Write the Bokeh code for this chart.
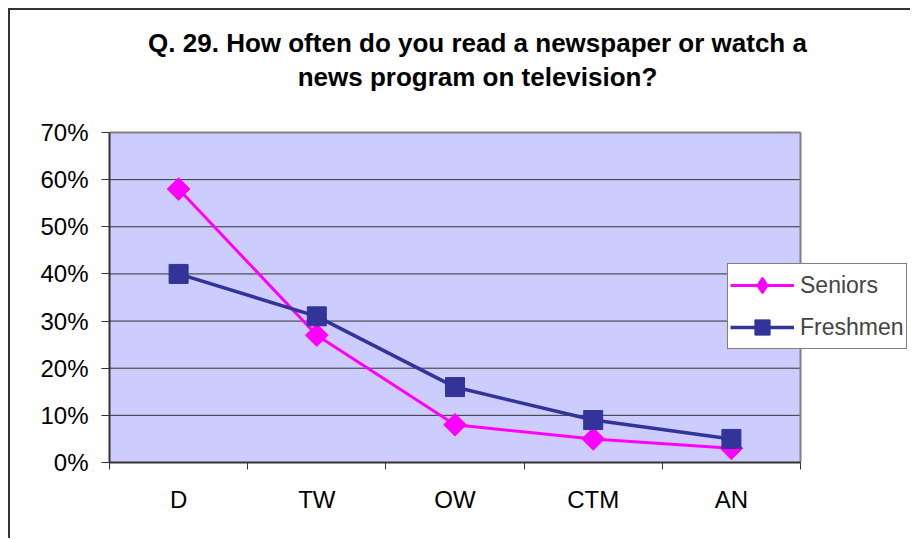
import math
from bokeh.plotting import figure
from bokeh.models import Range1d, FixedTicker, PrintfTickFormatter, Label, Legend, LegendItem
from bokeh.embed import file_html
from bokeh.resources import INLINE

# ---- data ----
categories = ["D", "TW", "OW", "CTM", "AN"]
seniors = [58, 27, 8, 5, 3]
freshmen = [40, 31, 16, 9, 5]
y_ticks = [0, 10, 20, 30, 40, 50, 60, 70]
series_names = ["Seniors", "Freshmen"]
title_lines = ["Q. 29. How often do you read a newspaper or watch a",
               "news program on television?"]

FONT = "Liberation Sans"
SEN_COLOR = "#FF00FF"
FRE_COLOR = "#333399"
AREA_BG = "#CCCCFF"

# ---- layout (pixels) ----
W, H = 902, 530            # canvas (page offset 10,10 because of margin + border)
LEFT, BOTTOM = 99, 78      # frame: canvas-left 99 .. right edge, top edge .. page y 462
AREA_W, AREA_H = 691, 330  # visible plot area inside the frame
FRAME_W, FRAME_H = W - LEFT, H - BOTTOM

n = len(categories)
xs = [i + 0.5 for i in range(n)]
bounds = list(range(n + 1))
y_lo, y_hi = y_ticks[0], y_ticks[-1]
x_end = n * FRAME_W / AREA_W
y_end = y_lo + (y_hi - y_lo) * FRAME_H / AREA_H

p = figure(width=W, height=H, output_backend="svg", toolbar_location=None,
           x_range=Range1d(0, x_end), y_range=Range1d(y_lo, y_end),
           min_border_left=LEFT, min_border_right=0, min_border_top=0, min_border_bottom=BOTTOM,
           background_fill_color="white", border_fill_color="white")
p.styles = {"margin-left": "8px", "margin-top": "8px",
            "border-left": "2px solid #333333", "border-top": "2px solid #333333"}
p.outline_line_color = None
p.xgrid.visible = False
p.ygrid.visible = False

# x axis (ticks between categories)
xa = p.xaxis[0]
xa.bounds = (0, n)
xa.ticker = FixedTicker(ticks=xs, minor_ticks=bounds)
xa.major_label_overrides = {x: c for x, c in zip(xs, categories)}
xa.major_tick_line_color = None
xa.major_tick_out = 0
xa.major_tick_in = 0
xa.minor_tick_line_color = "#333333"
xa.minor_tick_out = 7
xa.minor_tick_in = 0
xa.axis_line_color = "#333333"
xa.axis_line_width = 2
xa.major_label_standoff = 16
xa.major_label_text_font = FONT
xa.major_label_text_font_size = "24px"
xa.major_label_text_color = "black"

# y axis
ya = p.yaxis[0]
ya.bounds = (y_lo, y_hi)
ya.ticker = FixedTicker(ticks=y_ticks)
ya.formatter = PrintfTickFormatter(format="%d%%")
ya.major_tick_out = 8
ya.major_tick_in = 0
ya.major_tick_line_color = "#333333"
ya.minor_tick_line_color = None
ya.axis_line_color = "#333333"
ya.axis_line_width = 2
ya.major_label_standoff = 13
ya.major_label_text_font = FONT
ya.major_label_text_font_size = "24px"
ya.major_label_text_color = "black"

# plot area, gridlines, area border
p.quad(left=0, right=n, bottom=y_lo, top=y_hi, fill_color=AREA_BG, line_color=None)
inner = y_ticks[1:-1]
p.segment(x0=[0] * len(inner), y0=inner, x1=[n] * len(inner), y1=inner,
          line_color="#333333", line_width=1)
p.segment(x0=[0, n], y0=[y_hi, y_lo], x1=[n, n], y1=[y_hi, y_hi],
          line_color="#808080", line_width=2)

# series
r1 = p.line(xs, seniors, line_color=SEN_COLOR, line_width=3)
r1m = p.scatter(xs, seniors, marker="square", angle=math.pi / 4, size=16,
                fill_color=SEN_COLOR, line_color=SEN_COLOR)
r2 = p.line(xs, freshmen, line_color=FRE_COLOR, line_width=3.5)
r2m = p.scatter(xs, freshmen, marker="square", size=19,
                fill_color=FRE_COLOR, line_color=FRE_COLOR)
# legend-only diamond glyph (legend draws markers unrotated)
r1leg = p.scatter(x=[float("nan")], y=[float("nan")], marker="diamond", size=15,
                  fill_color=SEN_COLOR, line_color=SEN_COLOR, line_width=2)

legend = Legend(items=[LegendItem(label=series_names[0], renderers=[r1, r1leg]),
                       LegendItem(label=series_names[1], renderers=[r2, r2m])],
                location=(618, 113), margin=0, padding=2, spacing=4,
                glyph_width=64, glyph_height=38, label_height=38, label_standoff=6,
                label_text_font=FONT, label_text_font_size="23px",
                border_line_color="black", border_line_width=1,
                background_fill_color="white", background_fill_alpha=1)
p.add_layout(legend)

# title (two lines), positioned in pixels from the frame's bottom-left
for txt, yy in zip(title_lines, [420, 386]):
    p.add_layout(Label(x=368, y=yy, x_units="screen", y_units="screen", text=txt,
                       text_align="center", text_baseline="alphabetic",
                       text_font=FONT, text_font_size="26px", text_font_style="bold",
                       text_color="black"))

open("out.html", "w").write(file_html(p, INLINE, title="Q. 29"))
